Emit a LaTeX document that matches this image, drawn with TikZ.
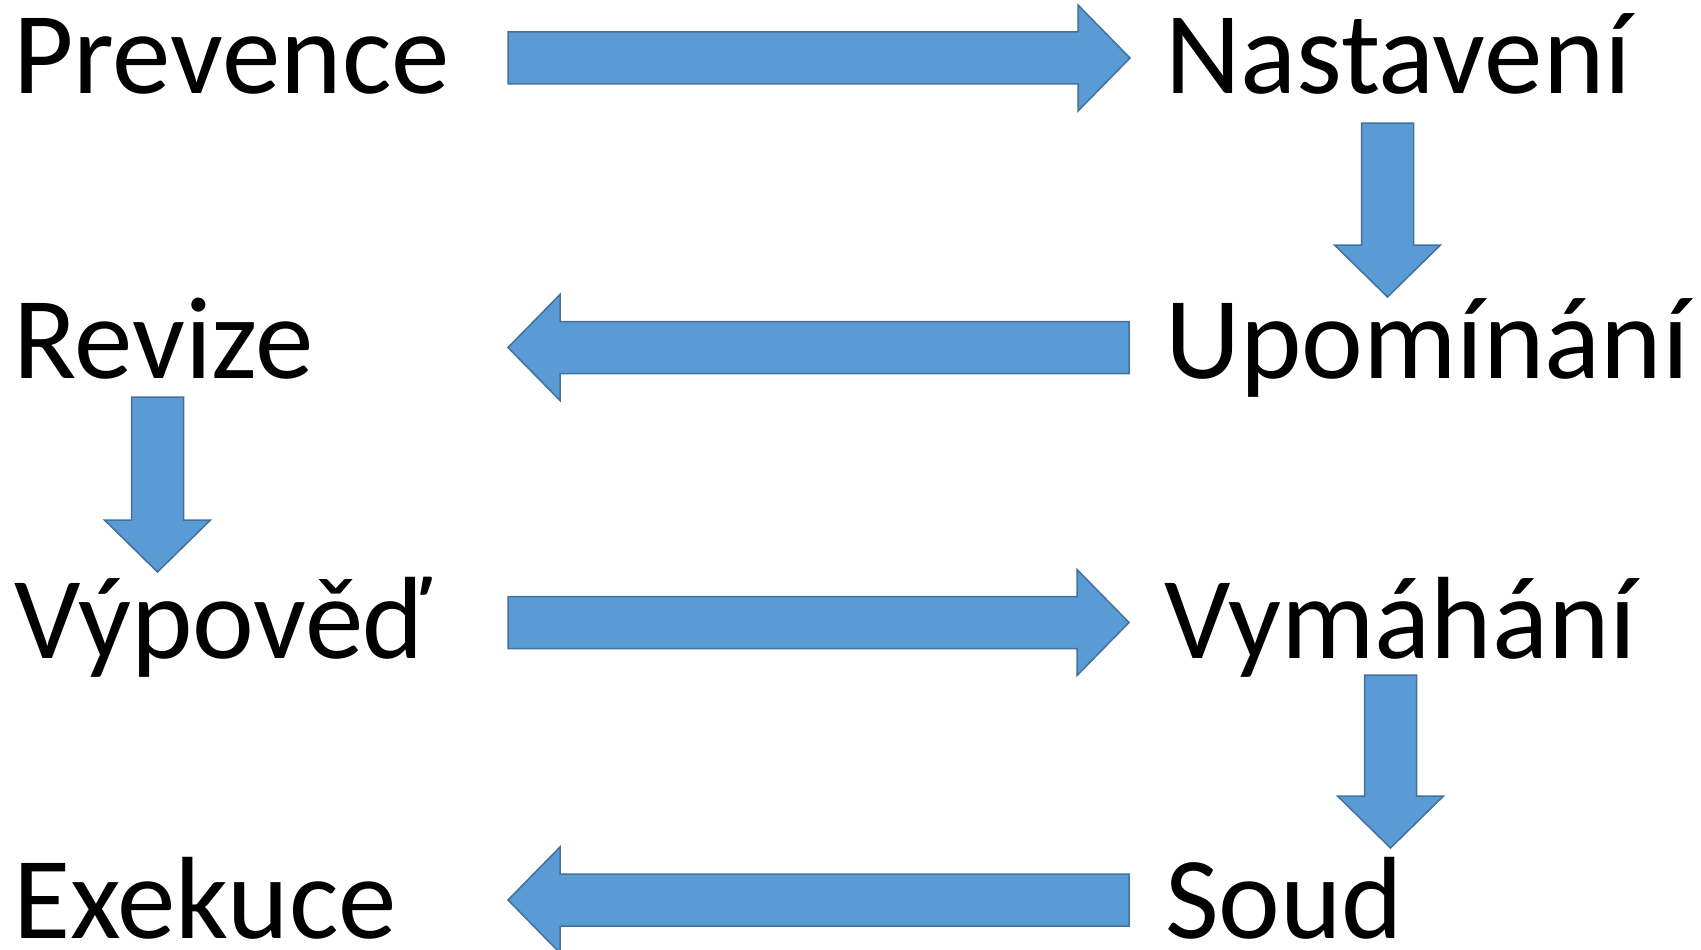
\documentclass[tikz,border=0pt]{standalone}
\usepackage{fontspec}
\setmainfont{Carlito}
\usetikzlibrary{calc}
\definecolor{arrfill}{HTML}{5B9BD5}
\definecolor{arrline}{HTML}{41719C}
\tikzset{
  lbl/.style={anchor=base west, inner sep=0pt, outer sep=0pt, font=\fontsize{117}{140}\selectfont},
  barrow/.style={fill=arrfill, draw=arrline, line width=1.5pt, line join=miter}
}
% horizontal block arrow from #1 (tail centre) to #2 (tip)
\newcommand\hblock[2]{%
  \draw[barrow] let \p1=(#1), \p2=(#2), \n1={(\x2>\x1)?1:-1} in
    (\x1,\y1+26pt) -- (\x2-\n1*52pt,\y1+26pt) -- (\x2-\n1*52pt,\y1+53pt) -- (\x2,\y1)
    -- (\x2-\n1*52pt,\y1-53pt) -- (\x2-\n1*52pt,\y1-26pt) -- (\x1,\y1-26pt) -- cycle;}
% downward block arrow from #1 (tail centre) to #2 (tip)
\newcommand\vblock[2]{%
  \draw[barrow] let \p1=(#1), \p2=(#2) in
    (\x1-26pt,\y1) -- (\x1-26pt,\y2+52pt) -- (\x1-53pt,\y2+52pt) -- (\x1,\y2)
    -- (\x1+53pt,\y2+52pt) -- (\x1+26pt,\y2+52pt) -- (\x1+26pt,\y1) -- cycle;}
\begin{document}
\begin{tikzpicture}[x=1pt,y=-1pt]
\useasboundingbox (0,0) rectangle (1701,950);
% texts
\node[lbl] (prev) at (13,94) {Prevence};
\node[lbl] (nast) at (1165,94) {Nastavení};
\node[lbl] (upom) at (1165,378) {Upomínání};
\node[lbl] (rev) at (13,378) {Revize};
\node[lbl] (vyp) at (14,658) {Výpověď};
\node[lbl] (vym) at (1164,658) {Vymáhání};
\node[lbl] (soud) at (1165,938) {Soud};
\node[lbl] (exe) at (13,938) {Exekuce};
% arrow end points
\coordinate (aAs) at (508,58);   \coordinate (aAe) at (1130,58);
\coordinate (aBs) at (1387.5,123); \coordinate (aBe) at (1387.5,297);
\coordinate (aCs) at (1129,347.5); \coordinate (aCe) at (508,347.5);
\coordinate (aDs) at (157.5,397); \coordinate (aDe) at (157.5,572);
\coordinate (aEs) at (508,622.5); \coordinate (aEe) at (1129,622.5);
\coordinate (aFs) at (1390.5,675); \coordinate (aFe) at (1390.5,848);
\coordinate (aGs) at (1129,900); \coordinate (aGe) at (508,900);
% arrows
\hblock{aAs}{aAe}
\vblock{aBs}{aBe}
\hblock{aCs}{aCe}
\vblock{aDs}{aDe}
\hblock{aEs}{aEe}
\vblock{aFs}{aFe}
\hblock{aGs}{aGe}
\end{tikzpicture}
\end{document}
